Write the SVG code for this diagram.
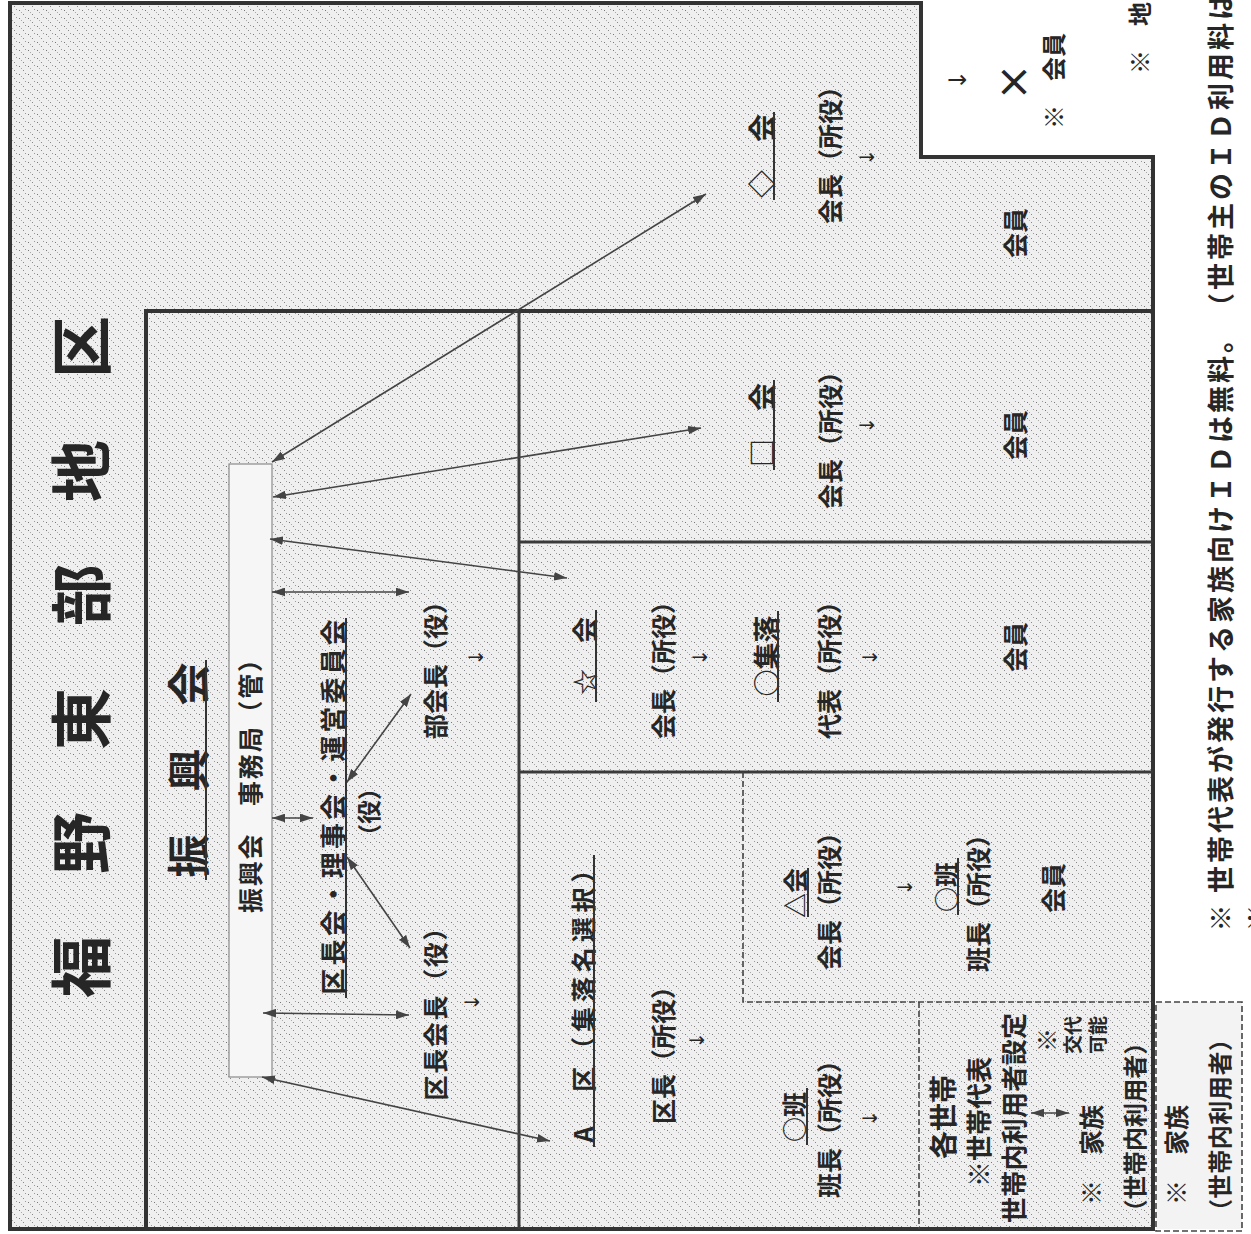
<svg xmlns="http://www.w3.org/2000/svg" width="1251" height="1234" viewBox="0 0 1251 1234">
<defs>
<style>
.t{font-family:"Noto Sans CJK JP","Noto Sans CJK SC",sans-serif;font-weight:bold;fill:#262626;dominant-baseline:central;text-anchor:middle;font-size:25px}
.ar{font-family:"DejaVu Sans",sans-serif;font-weight:normal;font-size:20px}
.frame{fill:none;stroke:#333;stroke-width:4}
.div{fill:none;stroke:#3a3a3a;stroke-width:3}
.dash{fill:none;stroke:#444;stroke-width:1.6;stroke-dasharray:6 3}
.ul{stroke:#333;stroke-width:2}
.con{stroke:#444;stroke-width:1.6;fill:none;marker-start:url(#ah);marker-end:url(#ah)}
</style>
<marker id="ah" viewBox="0 0 12 8" refX="12" refY="4" markerWidth="13" markerHeight="9" markerUnits="userSpaceOnUse" orient="auto-start-reverse"><path d="M0,0 L12,4 L0,8 z" fill="#444"/></marker>
<pattern id="dots" width="9" height="8" patternUnits="userSpaceOnUse"><rect x="1" y="2" width="1" height="1" fill="#777"/><rect x="5" y="6" width="1" height="1" fill="#888"/><rect x="7" y="1" width="1" height="1" fill="#999"/><rect x="3" y="4" width="1" height="1" fill="#aaa"/></pattern>
</defs>
<rect width="1251" height="1234" fill="#fff"/>
<g id="background">
<path d="M10,3 H921 V157 H1153 V1229 H10 Z" fill="#efefef"/>
<path d="M10,3 H921 V157 H1153 V1229 H10 Z" fill="url(#dots)"/>
<rect x="1156" y="1002" width="86" height="227" fill="#f3f3f3"/>
</g>
<g id="frames">
<path class="frame" d="M10,3 H921 V157 H1153 V1229 H10 Z"/>
<path class="frame" d="M146,1229 V311 H1153"/>
<line class="div" x1="519" y1="311" x2="519" y2="1229"/>
<line class="div" x1="519" y1="542" x2="1153" y2="542"/>
<line class="div" x1="519" y1="772" x2="1153" y2="772"/>
<path class="dash" d="M743,772 V1002 H1153"/>
<line class="dash" x1="919" y1="1002" x2="919" y2="1229"/>
<rect class="dash" x="1156" y="1002" width="86" height="229"/>
</g>
<g id="title">
<text class="t" style="font-size:62px" transform="translate(78 657) rotate(-90)">福　野　東　部　地　区</text>
</g>
<g id="node-shinkokai">
<text class="t" style="font-size:43px" transform="translate(186 770) rotate(-90)">振　興　会</text>
<line class="ul" x1="206" y1="880" x2="206" y2="660"/>
</g>
<g id="node-jimukyoku">
<rect x="229" y="464" width="43" height="613" fill="#f6f6f6" stroke="#8a8a8a" stroke-width="1.2"/>
<text class="t" textLength="266" lengthAdjust="spacing" transform="translate(249 780) rotate(-90)">振興会　事務局（管）</text>
</g>
<g id="node-rijikai">
<text class="t" style="font-size:26px" textLength="375" lengthAdjust="spacing" transform="translate(331 807) rotate(-90)">区長会・理事会・運営委員会</text>
<line class="ul" x1="346" y1="998" x2="346" y2="618"/>
<text class="t" style="font-size:24px" transform="translate(367 812) rotate(-90)">（役）</text>
</g>
<g id="node-bukaicho">
<text class="t" transform="translate(434 664) rotate(-90)">部会長（役）</text>
<text class="t ar" transform="translate(476 657) rotate(-90)">↓</text>
</g>
<g id="node-kuchokaicho">
<text class="t" textLength="185" lengthAdjust="spacing" transform="translate(434 1008) rotate(-90)">区長会長（役）</text>
<text class="t ar" transform="translate(472 1002) rotate(-90)">↓</text>
</g>
<g id="node-a-ku">
<text class="t" textLength="285" lengthAdjust="spacing" transform="translate(582 1000) rotate(-90)">A　区（集落名選択）</text>
<line class="ul" x1="594" y1="1147" x2="594" y2="855"/>
<text class="t" transform="translate(662 1049) rotate(-90)">区長（所役）</text>
<text class="t ar" transform="translate(697 1040) rotate(-90)">↓</text>
<text class="t" transform="translate(793 1117) rotate(-90)">○班</text>
<line class="ul" x1="807" y1="1145" x2="807" y2="1088"/>
<text class="t" transform="translate(828 1123) rotate(-90)">班長（所役）</text>
<text class="t ar" transform="translate(870 1118) rotate(-90)">↓</text>
</g>
<g id="node-sankaku">
<text class="t" transform="translate(794 893) rotate(-90)">△会</text>
<line class="ul" x1="808" y1="917" x2="808" y2="868"/>
<text class="t" transform="translate(828 895) rotate(-90)">会長（所役）</text>
<text class="t ar" transform="translate(905 887) rotate(-90)">↓</text>
<text class="t" transform="translate(945 887) rotate(-90)">○班</text>
<line class="ul" x1="958" y1="915" x2="958" y2="858"/>
<text class="t" transform="translate(977 897) rotate(-90)">班長（所役）</text>
<text class="t" transform="translate(1052 888) rotate(-90)">会員</text>
</g>
<g id="node-setai">
<text class="t" style="font-size:28px" transform="translate(942 1117) rotate(-90)">各世帯</text>
<text class="t" style="font-size:26px" transform="translate(977 1122) rotate(-90)">※世帯代表</text>
<text class="t" style="font-size:26px" textLength="210" lengthAdjust="spacing" transform="translate(1012 1118) rotate(-90)">世帯内利用者設定</text>
<text class="t" style="font-size:24px" transform="translate(1045 1040) rotate(-90)">※</text>
<text class="t" style="font-size:19px" transform="translate(1071 1035) rotate(-90)">交代</text>
<text class="t" style="font-size:19px" transform="translate(1096 1035) rotate(-90)">可能</text>
<text class="t" style="font-size:25px" transform="translate(1090 1155) rotate(-90)">※　家族</text>
<text class="t" style="font-size:24px" textLength="193" lengthAdjust="spacing" transform="translate(1133 1127) rotate(-90)">（世帯内利用者）</text>
</g>
<g id="node-kazoku">
<text class="t" style="font-size:25px" transform="translate(1175 1155) rotate(-90)">※　家族</text>
<text class="t" style="font-size:24px" textLength="196" lengthAdjust="spacing" transform="translate(1218 1125) rotate(-90)">（世帯内利用者）</text>
</g>
<g id="node-hishi">
<text class="t" style="font-size:28px" transform="translate(761 156) rotate(-90)">◇　会</text>
<line class="ul" x1="774" y1="200" x2="774" y2="112"/>
<text class="t" transform="translate(829 149) rotate(-90)">会長（所役）</text>
<text class="t ar" transform="translate(867 157) rotate(-90)">↓</text>
<text class="t" transform="translate(1014 233) rotate(-90)">会員</text>
</g>
<g id="node-shikaku">
<text class="t" style="font-size:28px" transform="translate(761 425) rotate(-90)">□　会</text>
<line class="ul" x1="774" y1="470" x2="774" y2="380"/>
<text class="t" transform="translate(829 434) rotate(-90)">会長（所役）</text>
<text class="t ar" transform="translate(867 425) rotate(-90)">↓</text>
<text class="t" transform="translate(1014 435) rotate(-90)">会員</text>
</g>
<g id="node-hoshi">
<text class="t" style="font-size:26px" transform="translate(583 656) rotate(-90)">☆　会</text>
<line class="ul" x1="596" y1="702" x2="596" y2="610"/>
<text class="t" transform="translate(662 664) rotate(-90)">会長（所役）</text>
<text class="t ar" transform="translate(700 657) rotate(-90)">↓</text>
<text class="t" style="font-size:27px" transform="translate(765 656) rotate(-90)">○集落</text>
<line class="ul" x1="778" y1="702" x2="778" y2="611"/>
<text class="t" transform="translate(828 664) rotate(-90)">代表（所役）</text>
<text class="t ar" transform="translate(870 657) rotate(-90)">↓</text>
<text class="t" transform="translate(1014 647) rotate(-90)">会員</text>
</g>
<g id="legend">
<text class="t ar" style="font-size:24px" transform="translate(958 80) rotate(-90)">↓</text>
<text class="t" style="font-family:'DejaVu Sans',sans-serif;font-weight:normal;font-size:44px" transform="translate(1012 82) rotate(-90)">×</text>
<text class="t" style="font-size:24px;text-anchor:start" transform="translate(1052 129) rotate(-90)">※　会員</text>
<text class="t" style="font-size:24px;text-anchor:start" transform="translate(1138 74) rotate(-90)">※　地</text>
</g>
<g id="notes">
<text class="t" style="font-size:27px" transform="translate(1219 918) rotate(-90)">※</text>
<text class="t" style="font-size:27px;text-anchor:start;letter-spacing:3px" transform="translate(1219 893) rotate(-90)">世帯代表が発行する家族向けＩＤは無料。　（世帯主のＩＤ利用料は</text>
<text class="t" style="font-size:27px" transform="translate(1256 918) rotate(-90)">※</text>
</g>
<g id="connectors">
<line class="con" x1="272" y1="462" x2="706" y2="194"/>
<line class="con" x1="273" y1="497" x2="701" y2="428"/>
<line class="con" x1="270" y1="539" x2="567" y2="578"/>
<line class="con" x1="272" y1="592" x2="409" y2="592"/>
<line class="con" x1="272" y1="818" x2="313" y2="818"/>
<line class="con" x1="347" y1="782" x2="411" y2="694"/>
<line class="con" x1="347" y1="857" x2="410" y2="948"/>
<line class="con" x1="263" y1="1013" x2="409" y2="1015"/>
<line class="con" x1="262" y1="1077" x2="550" y2="1141"/>
<line class="con" x1="1031" y1="1113" x2="1069" y2="1113"/>
</g>
</svg>
